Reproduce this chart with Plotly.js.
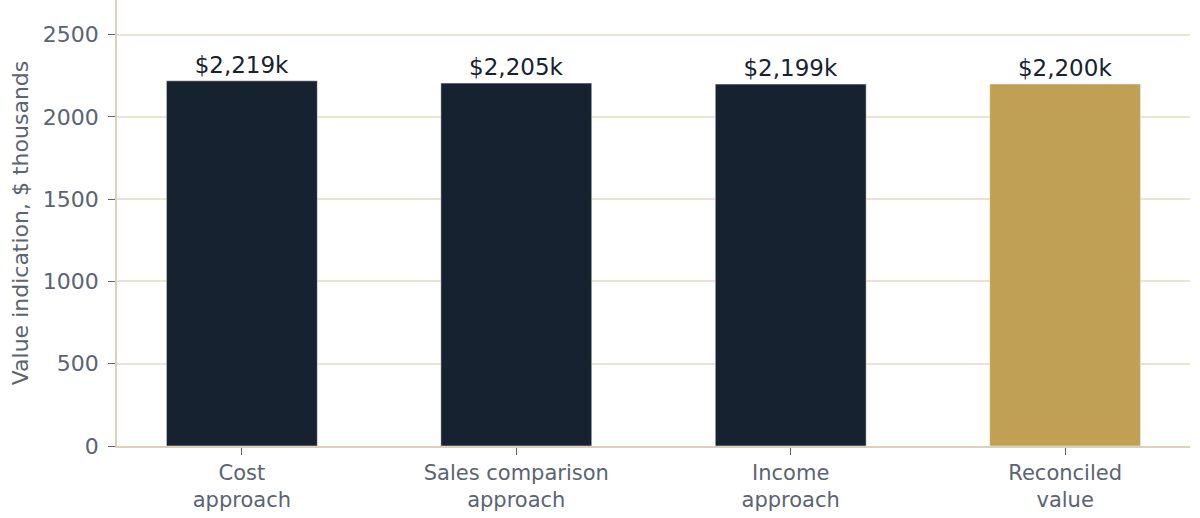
<!DOCTYPE html>
<html>
<head>
<meta charset="utf-8">
<script src="https://cdn.plot.ly/plotly-3.0.1.min.js"></script>
<style>
  html, body { margin: 0; padding: 0; background: #fff; }
  #myDiv { width: 1200px; height: 518px; }
</style>
</head>
<body>
<div id="myDiv"></div>
<script>
var categories = ['Cost<br>approach', 'Sales comparison<br>approach', 'Income<br>approach', 'Reconciled<br>value'];
var values = [2219, 2205, 2199, 2200];
var labels = ['$2,219k', '$2,205k', '$2,199k', '$2,200k'];
var barColors = ['#172230', '#172230', '#172230', '#BFA055'];

var trace1 = {
  x: categories,
  y: values,
  text: labels,
  type: 'bar',
  width: 0.55,
  textposition: 'outside',
  cliponaxis: false,
  textfont: {family: 'DejaVu Sans', size: 23, color: '#172230'},
  marker: {color: barColors, line: {color: '#ffffff', width: 0.5}},
  hoverinfo: 'none'
};

var layout = {
  width: 1200,
  height: 518,
  margin: {l: 117, r: 10, t: 0, b: 72},
  paper_bgcolor: '#ffffff',
  plot_bgcolor: '#ffffff',
  showlegend: false,
  font: {family: 'DejaVu Sans', color: '#5a6472'},
  xaxis: {
    range: [-0.455, 3.455],
    showline: true,
    linecolor: '#dcd0b8',
    linewidth: 1.5,
    ticks: 'outside',
    ticklen: 7,
    tickcolor: '#5a6472',
    tickfont: {size: 21, color: '#5a6472'},
    showgrid: false
  },
  yaxis: {
    range: [0, 2710],
    dtick: 500,
    showline: true,
    linecolor: '#dcd0b8',
    linewidth: 1.5,
    ticks: 'outside',
    ticklen: 7,
    tickcolor: '#5a6472',
    ticklabelstandoff: 5,
    tickfont: {size: 22, color: '#5a6472'},
    gridcolor: '#ebe3d3',
    gridwidth: 1.5,
    zeroline: false,
    title: {text: 'Value indication, $ thousands', font: {size: 22, color: '#5a6472'}, standoff: 8}
  }
};

Plotly.newPlot('myDiv', [trace1], layout, {displayModeBar: false});
</script>
</body>
</html>
